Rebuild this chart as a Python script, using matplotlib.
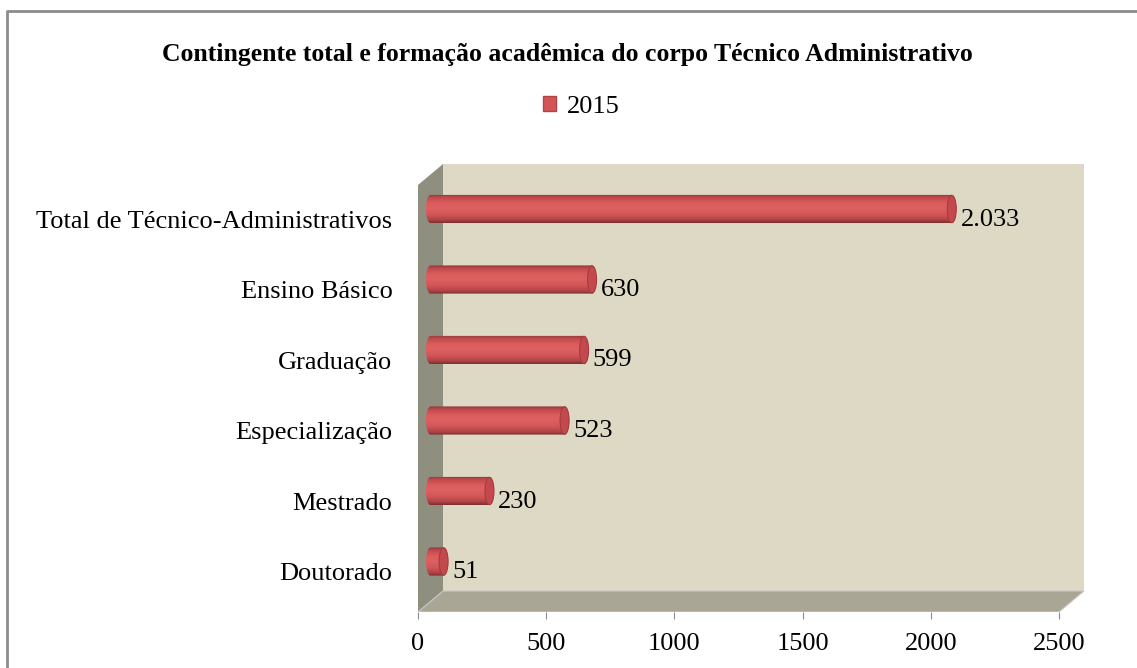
import numpy as np
import matplotlib
matplotlib.use('Agg')
import matplotlib.pyplot as plt
from matplotlib.patches import Polygon, Ellipse, Rectangle, Patch
from matplotlib.lines import Line2D

categories = ['Doutorado', 'Mestrado', 'Especialização', 'Graduação',
              'Ensino Básico', 'Total de Técnico-Administrativos']
values = [51, 230, 523, 599, 630, 2033]
value_labels = ['51', '230', '523', '599', '630', '2.033']
series_name = '2015'
title = 'Contingente total e formação acadêmica do corpo Técnico Administrativo'
xticks = [0, 500, 1000, 1500, 2000, 2500]

plt.rcParams['font.family'] = ['Liberation Serif', 'DejaVu Serif']

W, H = 1137, 668
fig = plt.figure(figsize=(W / 100, H / 100), dpi=100)

# axes placed in pixel terms
px_left, px_right, px_top, px_bottom = 410, 1090, 160, 612
ax = fig.add_axes([px_left / W, 1 - px_bottom / H,
                   (px_right - px_left) / W, (px_bottom - px_top) / H])

sx = (1059 - 418) / 2500.0       # pixels per unit
sy = 70.5                        # pixels per category
x0 = (px_left - 418) / sx
x1 = (px_right - 418) / sx
ylo = (572 - px_bottom) / sy
yhi = (572 - px_top) / sy
wall_top = (572 - 164) / sy
dx = 25 / sx
dy = 21 / sy

# walls and floor
ax.add_patch(Rectangle((dx, ylo + dy), 2500, wall_top - ylo - dy,
                       facecolor='#ddd9c4', edgecolor='none', zorder=0))
ax.add_patch(Polygon([(0, ylo), (0, wall_top - dy), (dx, wall_top), (dx, ylo + dy)],
                     facecolor='#8f8f80', edgecolor='none', zorder=1))
ax.add_patch(Polygon([(0, ylo), (2500, ylo), (2500 + dx, ylo + dy), (dx, ylo + dy)],
                     facecolor='#a9a696', edgecolor='#c8c8c8', lw=0.8, zorder=1))

# cylinder bars
bar_h = 0.40
cap_w = 9 / sx
grad = np.array([0.0, 0.12, 0.3, 0.5, 0.72, 0.9, 1.0])
cols = np.array([[0.58, 0.22, 0.23], [0.76, 0.29, 0.30], [0.86, 0.36, 0.36],
                 [0.87, 0.38, 0.38], [0.82, 0.33, 0.34], [0.68, 0.26, 0.27],
                 [0.50, 0.18, 0.19]])
t = np.linspace(0, 1, 64)
img = np.stack([np.interp(t, grad, cols[:, k]) for k in range(3)], axis=-1)[:, None, :]

for i, v in enumerate(values):
    yc = i + dy / 2
    xs = dx / 2
    xe = dx / 2 + v
    th_l = np.linspace(np.pi / 2, 3 * np.pi / 2, 30)
    th_r = np.linspace(-np.pi / 2, np.pi / 2, 30)
    left = np.column_stack([xs + cap_w / 2 * np.cos(th_l), yc + bar_h / 2 * np.sin(th_l)])
    right = np.column_stack([xe + cap_w / 2 * np.cos(th_r), yc + bar_h / 2 * np.sin(th_r)])
    verts = np.vstack([left, right, left[:1]])
    poly = Polygon(verts, closed=True, facecolor='none', edgecolor='none')
    ax.add_patch(poly)
    im = ax.imshow(img, extent=(xs - cap_w, xe + cap_w, yc - bar_h / 2, yc + bar_h / 2),
                   aspect='auto', origin='upper', zorder=3, interpolation='bilinear')
    im.set_clip_path(poly)
    ax.add_patch(Ellipse((xe, yc), cap_w, bar_h * 0.97, facecolor='#c4494c',
                         edgecolor='#a33c3e', lw=0.8, zorder=4))
    ax.annotate(value_labels[i], (xe + cap_w / 2, i), xytext=(3, 0),
                textcoords='offset points', ha='left', va='center', fontsize=19)

ax.set_xlim(x0, x1)
ax.set_ylim(ylo, yhi)
ax.set_xticks(xticks)
ax.set_xticklabels([str(x) for x in xticks], fontsize=19)
ax.set_yticks(range(len(categories)))
ax.set_yticklabels(categories, fontsize=19)
ax.tick_params(axis='y', length=0, pad=(416 - 393) * 0.72 - 4)
ax.tick_params(axis='x', length=5, color='#8c8c8c', direction='out', pad=10)
for s in ax.spines.values():
    s.set_visible(False)

fig.text(567 / W, 1 - 55 / H, title, ha='center', va='center',
         fontsize=18.5, fontweight='bold')
fig.legend(handles=[Patch(facecolor='#d45456', edgecolor='#b04446')],
           labels=[series_name], loc='center', bbox_to_anchor=(581 / W, 1 - 107 / H),
           frameon=False, fontsize=19, handlelength=0.5, handleheight=0.5,
           handletextpad=0.4)

# outer frame (only left and top edges are inside the picture)
fig.add_artist(Line2D([7 / W, 7 / W, 1.0], [0.0, 1 - 11 / H, 1 - 11 / H],
                      transform=fig.transFigure, color='#8c8c8c', lw=2,
                      solid_capstyle='butt'))

fig.savefig('out.png', dpi=100)
